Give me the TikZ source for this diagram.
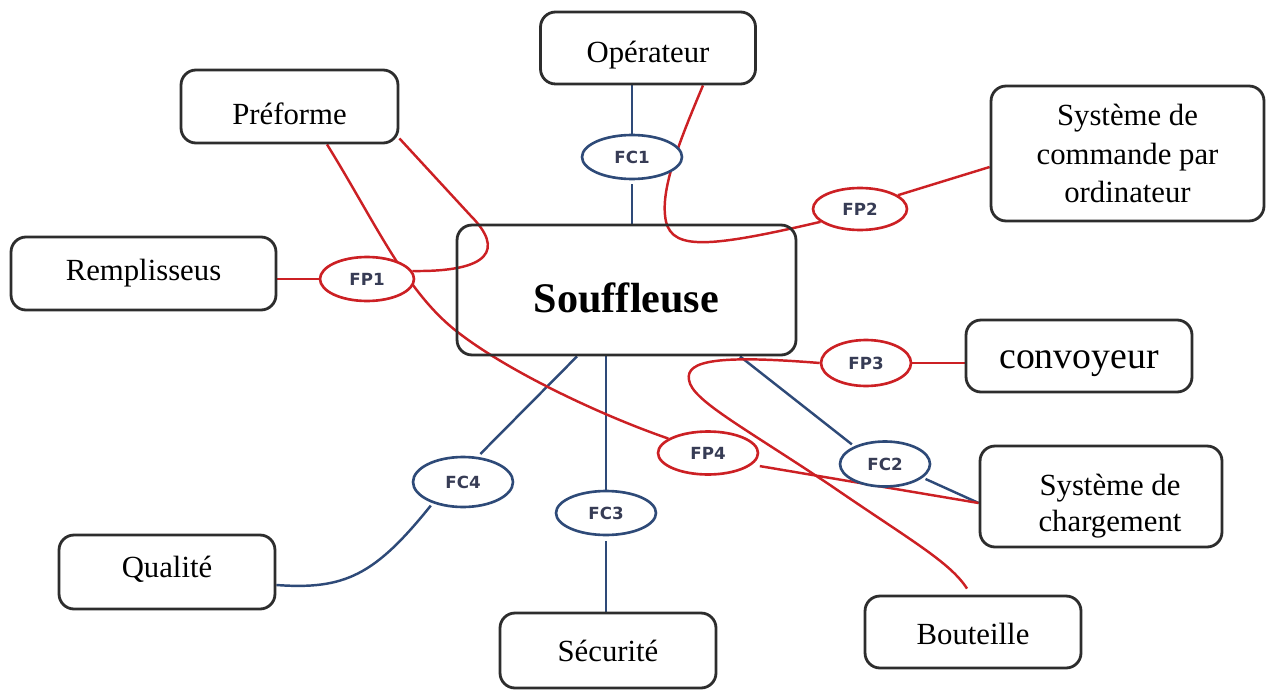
\documentclass[tikz,border=0pt]{standalone}
\usepackage{fontspec}
\setmainfont{Liberation Serif}
\newfontfamily\fcfont{DejaVu Sans}
\usetikzlibrary{shapes.geometric,calc,backgrounds}
\definecolor{cblue}{RGB}{46,74,120}
\definecolor{cred}{RGB}{204,32,36}
\definecolor{cbox}{RGB}{45,45,45}
\definecolor{ctxt}{RGB}{55,60,85}
\newcommand{\shiftdown}[2]{\raisebox{-#1}[\height][\depth]{#2}}
\begin{document}
\begin{tikzpicture}[x=0.02cm,y=-0.02cm,
  nbox/.style={draw=cbox, line width=1.6pt, rounded corners=0.3cm, align=center, inner sep=0pt, font=\fontsize{17.5}{22}\selectfont},
  fcell/.style={ellipse, draw=cblue, fill=white, line width=1.5pt, inner sep=0pt, font=\fcfont\bfseries\fontsize{9.5}{11}\selectfont, text=ctxt},
  fpell/.style={fcell, draw=cred},
  bl/.style={draw=cblue, line width=1.4pt},
  rd/.style={draw=cred, line width=1.4pt}]
\useasboundingbox (0,0) rectangle (1266,689);

% boxes
\node[nbox, minimum width=4.3cm, minimum height=1.44cm] (oper) at (648,48) {\shiftdown{0.14cm}{Opérateur}};
\node[nbox, minimum width=4.34cm, minimum height=1.46cm] (pref) at (289.5,106.5) {\shiftdown{0.14cm}{Préforme}};
\node[nbox, minimum width=5.46cm, minimum height=2.7cm] (cmd) at (1127.5,153.5) {Système de\\commande par\\ordinateur};
\node[nbox, minimum width=5.3cm, minimum height=1.46cm] (rempl) at (143.5,273.5) {Remplisseus};
\node[nbox, minimum width=6.78cm, minimum height=2.6cm, font=\fontsize{24}{28}\selectfont\bfseries] (souf) at (626.5,290) {\shiftdown{0.16cm}{Souffleuse}};
\node[nbox, minimum width=4.52cm, minimum height=1.44cm, font=\fontsize{21.5}{24}\selectfont] (conv) at (1079,356) {\shiftdown{0.16cm}{convoyeur}};
\node[nbox, minimum width=4.84cm, minimum height=2.02cm, font=\fontsize{17.5}{20.5}\selectfont] (charg) at (1101,496.5) {\hspace*{0.36cm}\shiftdown{0.2cm}{\begin{tabular}{@{}c@{}}Système de\\chargement\end{tabular}}};
\node[nbox, minimum width=4.32cm, minimum height=1.48cm] (qual) at (167,572) {\shiftdown{-0.05cm}{Qualité}};
\node[nbox, minimum width=4.32cm, minimum height=1.5cm] (secu) at (608,650.5) {Sécurité};
\node[nbox, minimum width=4.32cm, minimum height=1.44cm] (bout) at (973,632) {\shiftdown{0.04cm}{Bouteille}};

% ellipses
\node[fcell, minimum width=2.0cm, minimum height=0.88cm] (fc1) at (632,157) {FC1};
\node[fpell, minimum width=1.88cm, minimum height=0.84cm] (fp2) at (860,209) {FP2};
\node[fpell, minimum width=1.88cm, minimum height=0.88cm] (fp1) at (367,279) {FP1};
\node[fpell, minimum width=1.8cm, minimum height=0.92cm] (fp3) at (866,363) {FP3};
\node[fpell, minimum width=2.0cm, minimum height=0.86cm] (fp4) at (708,453) {FP4};
\node[fcell, minimum width=1.8cm, minimum height=0.9cm] (fc2) at (885,464) {FC2};
\node[fcell, minimum width=2.0cm, minimum height=1.0cm] (fc4) at (463,482) {FC4};
\node[fcell, minimum width=2.0cm, minimum height=0.88cm] (fc3) at (606,513) {FC3};

\begin{pgfonlayer}{background}
% blue connectors
\draw[bl] (fc1.north |- oper.south) -- (fc1.north);
\draw[bl] ([yshift=-0.08cm]fc1.south) -- (fc1.south |- souf.north);
\draw[bl, shorten >=0.08cm] ([xshift=-0.99cm]souf.south) -- (fc4.60);
\draw[bl, shorten <=0.06cm] (fc4.-145) .. controls (375,575) and (345,590) .. ([yshift=-0.26cm]qual.east);
\draw[bl] (souf.south -| fc3.north) -- (fc3.north);
\draw[bl] ([yshift=-0.1cm]fc3.south) -- (fc3.south |- secu.north);
\draw[bl, shorten >=0.06cm] ([xshift=2.27cm]souf.south) -- (fc2.150);
\draw[bl, shorten <=0.06cm] (fc2.-20) -- ([yshift=-0.13cm]charg.west);
% red connectors
\draw[rd] (rempl.east |- fp1.west) -- (fp1.west);
\draw[rd] ([xshift=0.75cm]pref.south) .. controls (375,222) and (405,290) .. (455,330) .. controls (505,370) and (600,415) .. (fp4.160);
\draw[rd] ([yshift=0.12cm]pref.south east) -- (470,215) .. controls (505,250) and (490,272) .. (fp1.10);
\draw[rd] ([xshift=1.1cm]oper.south) .. controls (680,140) and (662,185) .. (665,215) .. controls (668,250) and (700,250) .. (fp2.198);
\draw[rd] (fp2.20) -- ([yshift=-0.27cm]cmd.west);
\draw[rd] (fp3.west) .. controls (720,355) and (685,360) .. (689,380) .. controls (692,400) and (740,425) .. (830,485) .. controls (910,540) and (950,562) .. ([shift={(-0.12cm,0.12cm)}]bout.north);
\draw[rd] (fp3.east) -- (fp3.east -| conv.west);
\draw[rd, shorten <=0.16cm] (fp4.-15) -- ([yshift=-0.13cm]charg.west);
\end{pgfonlayer}
\end{tikzpicture}
\end{document}
